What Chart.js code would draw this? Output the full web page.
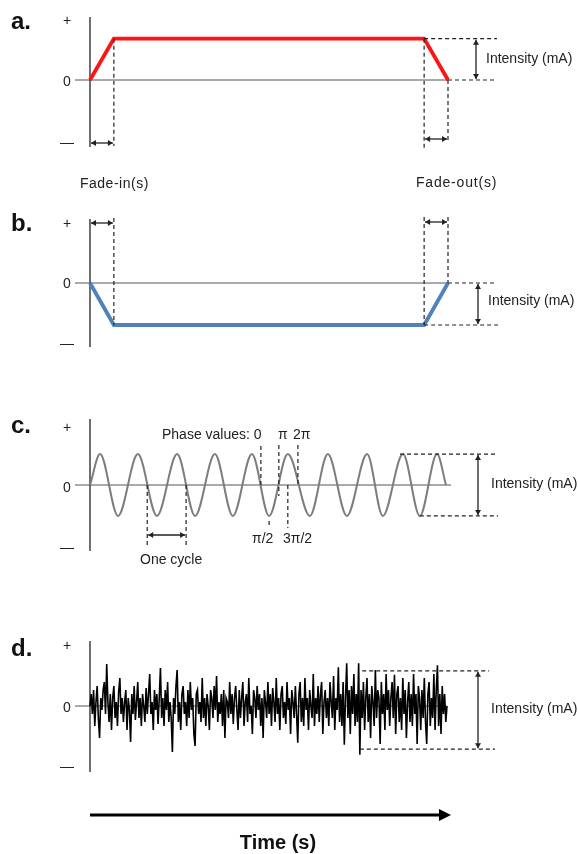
<!DOCTYPE html>
<html>
<head>
<meta charset="utf-8">
<script src="https://cdn.jsdelivr.net/npm/chart.js@4.4.1/dist/chart.umd.min.js"></script>
<style>
body { margin: 0; background: #fff; }
#fig { position: relative; width: 578px; height: 854px; overflow: hidden;
       font-family: "Liberation Sans", Arial, sans-serif; color: #222; }
#fig canvas { position: absolute; left: 0; }
.t { position: absolute; white-space: nowrap; line-height: 1; }
</style>
</head>
<body>
<div id="fig">
  <canvas id="panelA" width="578" height="200" style="top:0px"></canvas>
  <canvas id="panelB" width="578" height="170" style="top:200px"></canvas>
  <canvas id="panelC" width="578" height="200" style="top:380px"></canvas>
  <canvas id="panelD" width="578" height="254" style="top:600px"></canvas>
</div>
<script>
// ramp stimulation (a: anodal, b: cathodal), time in s, level in units of intensity
const rampTime = [0, 2, 28, 30];
const rampLevelA = [0, 1, 1, 0];
const rampLevelB = [0, -1, -1, 0];

// sine (c): extrema, time in cycle units
const waveTime = [0, 0.27, 0.75, 1.28, 1.79, 2.33, 2.81, 3.34, 3.82, 4.33, 4.79,
                  5.29, 5.88, 6.36, 6.87, 7.41, 7.83, 8.37, 8.82, 9.28, 9.52];
const waveLevel = [0, 1, -1, 1, -1, 1, -1, 1, -1, 1, -1,
                   1, -1, 1, -1, 1, -1, 1, -1, 1, 0];
const phaseNames = ['0', 'π/2', 'π', '3π/2', '2π'];
const phaseTime = [4.57, 4.79, 5.05, 5.29, 5.56];
const cycleTime = [1.53, 2.57];

// random noise (d), one sample per step
const noiseLevel = [
  0.0, 0.3, -0.2, 0.4, -0.5, 0.1, 0.5, -0.3, -0.8, 0.2,
  -0.1, 0.4, 0.6, -0.2, 1.05, 0.1, -0.4, 0.3, -0.6, 0.2,
  0.5, -0.3, 0.1, -0.5, 0.35, 0.7, -0.2, 0.2, -0.4, 0.1,
  0.4, -0.6, 0.2, -0.1, -0.9, 0.3, -0.2, 0.5, -0.35, 0.1,
  0.6, -0.3, 0.2, -0.5, 0.3, 0.0, -0.4, 0.45, -0.2, 0.3,
  0.8, -0.2, 0.1, -0.6, 0.4, -0.1, 0.3, -0.45, 0.2, 0.95,
  -0.3, 0.2, -0.5, 0.4, -0.1, 0.6, -0.4, 0.1, -0.3, -1.15,
  0.2, -0.2, 0.5, 0.9, -0.4, 0.1, -0.6, 0.3, 0.5, -0.2,
  0.1, -0.5, 0.4, -0.3, 0.6, -0.1, 0.2, -0.7, -1.0, 0.3,
  0.4, -0.2, 0.1, -0.4, 0.7, -0.3, 0.2, -0.5, 0.3, 0.0,
  -0.6, 0.4, 0.2, -0.3, 0.5, -0.1, 0.75, -0.4, 0.1, -0.2,
  0.3, -0.5, 0.4, -0.8, 0.2, 0.1, -0.3, 0.6, -0.2, 0.3,
  -0.45, 0.2, 0.5, -0.1, -0.6, 0.4, -0.3, 0.2, 0.6, -0.5,
  0.1, 0.3, -0.4, 0.7, -0.2, 0.0, -0.7, 0.4, 0.2, -0.3,
  0.5, -0.1, 0.3, -0.5, 0.2, -0.8, 0.4, 0.1, -0.3, 0.6,
  -0.2, 0.3, -0.5, 0.45, 0.1, -0.4, 0.7, -0.2, 0.2, -0.6,
  0.3, 0.5, -0.3, 0.1, -0.45, 0.6, -0.1, 0.2, -0.7, 0.4,
  0.1, -0.3, 0.5, -0.2, -0.92, 0.3, 0.6, -0.4, 0.2, -0.5,
  0.7, -0.1, 0.2, -0.6, 0.4, 0.0, -0.3, 0.8, -0.5, 0.2,
  -0.2, 0.5, -0.4, 0.3, 0.6, -0.7, 0.1, 0.4, -0.3, 0.2,
  -0.5, 0.6, 0.1, -0.3, 0.75, -0.6, 0.2, -0.1, 0.97, -0.4,
  0.3, -0.5, 0.6, -0.97, 0.2, 1.07, -0.3, 0.4, -0.7, 0.5,
  -0.2, 0.8, -0.5, 0.3, -0.4, 1.07, -1.22, 0.4, -0.3, 0.6,
  -0.6, 0.2, 0.7, -0.4, 0.3, -0.8, 0.5, 0.1, -0.5, 0.9,
  -0.3, 0.4, 0.2, -0.95, 0.6, -0.2, 0.3, -0.6, 0.8, -0.1,
  0.4, -0.5, 0.2, 0.6, -0.3, 0.78, -0.7, 0.3, 0.5, -0.4,
  0.2, -0.6, 0.7, -0.2, 0.4, -0.8, 0.1, 0.6, -0.4, 0.3,
  -0.5, 0.8, -0.2, 0.3, -0.95, 0.5, 0.2, -0.6, 0.4, -0.3,
  0.7, -0.4, -0.95, 0.3, 0.6, -0.5, 0.2, -0.3, 0.8, -0.6,
  0.4, 1.02, -0.5, 0.3, -0.7, 0.5, -0.2, 0.3, -0.4, 0.0
];
const noiseRange = [0.88, -1.08];

const ink = '#222';

function dashV(ctx, x, y1, y2) {
  ctx.save();
  ctx.setLineDash([4, 3]);
  ctx.lineWidth = 1.2;
  ctx.strokeStyle = ink;
  ctx.beginPath();
  ctx.moveTo(x, y1);
  ctx.lineTo(x, y2);
  ctx.stroke();
  ctx.restore();
}
function dashH(ctx, x1, x2, y) {
  ctx.save();
  ctx.setLineDash([4, 3]);
  ctx.lineWidth = 1.2;
  ctx.strokeStyle = ink;
  ctx.beginPath();
  ctx.moveTo(x1, y);
  ctx.lineTo(x2, y);
  ctx.stroke();
  ctx.restore();
}
function head(ctx, x, y, ang, len, w) {
  ctx.beginPath();
  ctx.moveTo(x, y);
  ctx.lineTo(x - len * Math.cos(ang) + w * Math.sin(ang), y - len * Math.sin(ang) - w * Math.cos(ang));
  ctx.lineTo(x - len * Math.cos(ang) - w * Math.sin(ang), y - len * Math.sin(ang) + w * Math.cos(ang));
  ctx.closePath();
  ctx.fill();
}
function arrow2(ctx, x1, y1, x2, y2) {
  const ang = Math.atan2(y2 - y1, x2 - x1);
  ctx.save();
  ctx.strokeStyle = ink;
  ctx.fillStyle = ink;
  ctx.lineWidth = 1.3;
  ctx.beginPath();
  ctx.moveTo(x1, y1);
  ctx.lineTo(x2, y2);
  ctx.stroke();
  head(ctx, x2, y2, ang, 5, 3);
  head(ctx, x1, y1, ang + Math.PI, 5, 3);
  ctx.restore();
}

// vertical axis and zero line
function frame(chart, down, right) {
  const { ctx, chartArea: a, scales: { y } } = chart;
  const y0 = y.getPixelForValue(0);
  ctx.save();
  ctx.strokeStyle = '#555';
  ctx.lineWidth = 1;
  ctx.beginPath();
  ctx.moveTo(a.left - 15, y0);
  ctx.lineTo(a.right + right, y0);
  ctx.stroke();
  ctx.strokeStyle = '#333';
  ctx.lineWidth = 1.4;
  ctx.beginPath();
  ctx.moveTo(a.left, a.top - 1);
  ctx.lineTo(a.left, a.bottom + down);
  ctx.stroke();
  ctx.restore();
}

function makePanel(id, pad, xr, yr, dataset, axisDown, zeroRight, marks) {
  return new Chart(document.getElementById(id), {
    type: 'line',
    data: { datasets: [dataset] },
    options: {
      responsive: false,
      animation: false,
      events: [],
      layout: { padding: pad },
      scales: {
        x: { type: 'linear', display: false, min: xr[0], max: xr[1] },
        y: { display: false, min: yr[0], max: yr[1] }
      },
      plugins: { legend: { display: false }, tooltip: { enabled: false } },
      elements: { point: { radius: 0 } }
    },
    plugins: [
      { id: 'frame', beforeDatasetsDraw: c => frame(c, axisDown, zeroRight) },
      { id: 'marks', afterDatasetsDraw: c => marks(c) }
    ]
  });
}

// a. anodal ramp
makePanel('panelA', { left: 90, right: 130, top: 18, bottom: 58 }, [0, 30], [-1.5, 1.5], {
  data: rampTime.map((t, i) => ({ x: t, y: rampLevelA[i] })),
  borderColor: '#ff1414', borderWidth: 3.8, tension: 0, clip: false
}, 5, 0, c => {
  const ctx = c.ctx, X = v => c.scales.x.getPixelForValue(v), Y = v => c.scales.y.getPixelForValue(v);
  dashV(ctx, X(rampTime[1]), Y(1), 146);
  dashV(ctx, X(rampTime[2]), Y(1), 148);
  dashV(ctx, X(rampTime[3]), Y(0), 143);
  arrow2(ctx, X(rampTime[0]) + 1, 143, X(rampTime[1]) - 1, 143);
  arrow2(ctx, X(rampTime[2]) + 1, 139, X(rampTime[3]) - 1, 139);
  dashH(ctx, X(rampTime[2]), 497, Y(1));
  dashH(ctx, X(rampTime[3]), 496, Y(0));
  arrow2(ctx, 476, Y(1) + 1, 476, Y(0) - 1);
});

// b. cathodal ramp
makePanel('panelB', { left: 90, right: 130, top: 20, bottom: 24 }, [0, 30], [-1.5, 1.5], {
  data: rampTime.map((t, i) => ({ x: t, y: rampLevelB[i] })),
  borderColor: '#4f81bd', borderWidth: 3.8, tension: 0, clip: false
}, 1, 0, c => {
  const ctx = c.ctx, X = v => c.scales.x.getPixelForValue(v), Y = v => c.scales.y.getPixelForValue(v);
  dashV(ctx, X(rampTime[1]), 18, Y(-1));
  dashV(ctx, X(rampTime[2]), 17, Y(-1));
  dashV(ctx, X(rampTime[3]), 17, Y(0));
  arrow2(ctx, X(rampTime[0]) + 1, 23, X(rampTime[1]) - 1, 23);
  arrow2(ctx, X(rampTime[2]) + 1, 22, X(rampTime[3]) - 1, 22);
  dashH(ctx, X(rampTime[3]), 495, Y(0));
  dashH(ctx, X(rampTime[2]), 498, Y(-1));
  arrow2(ctx, 478, Y(0) + 1, 478, Y(-1) - 1);
});

// c. alternating current
makePanel('panelC', { left: 90, right: 132, top: 40, bottom: 30 }, [0, 9.52], [-2.1, 2.1], {
  data: waveTime.map((t, i) => ({ x: t, y: waveLevel[i] })),
  borderColor: '#7d7d7d', borderWidth: 2, cubicInterpolationMode: 'monotone', clip: false
}, 1, 5, c => {
  const ctx = c.ctx, X = v => c.scales.x.getPixelForValue(v), Y = v => c.scales.y.getPixelForValue(v);
  // one cycle
  dashV(ctx, X(cycleTime[0]), Y(0), 168);
  dashV(ctx, X(cycleTime[1]), Y(0), 168);
  arrow2(ctx, X(cycleTime[0]) + 1, 155, X(cycleTime[1]) - 1, 155);
  // phase markers
  dashV(ctx, X(phaseTime[0]), 66, Y(0));
  dashV(ctx, X(phaseTime[1]), 141, 146);
  dashV(ctx, X(phaseTime[2]), 65, 116);
  dashV(ctx, X(phaseTime[3]), Y(0), 148);
  dashV(ctx, X(phaseTime[4]), 65, Y(0));
  // intensity
  dashH(ctx, X(8.29), 498, Y(1));
  dashH(ctx, X(8.82), 498, Y(-1));
  arrow2(ctx, 478, Y(1) + 1, 478, Y(-1) - 1);
});

// d. random noise
makePanel('panelD', { left: 90, right: 131, top: 42, bottom: 84 }, [0, noiseLevel.length - 1], [-1.6, 1.6], {
  data: noiseLevel.map((v, i) => ({ x: i, y: v })),
  borderColor: '#000', borderWidth: 1.6, tension: 0, clip: false
}, 2, 0, c => {
  const ctx = c.ctx, X = v => c.scales.x.getPixelForValue(v), Y = v => c.scales.y.getPixelForValue(v);
  dashH(ctx, X(228), 489, Y(noiseRange[0]));
  dashH(ctx, X(226), 495, Y(noiseRange[1]));
  arrow2(ctx, 478, Y(noiseRange[0]) + 1, 478, Y(noiseRange[1]) - 1);
  // time arrow
  ctx.save();
  ctx.strokeStyle = '#000';
  ctx.fillStyle = '#000';
  ctx.lineWidth = 3;
  ctx.beginPath();
  ctx.moveTo(c.chartArea.left, 215);
  ctx.lineTo(442, 215);
  ctx.stroke();
  head(ctx, 451, 215, 0, 12, 6);
  ctx.restore();
});

// text labels
const fig = document.getElementById('fig');
function text(str, x, y, size, weight, align) {
  const d = document.createElement('div');
  d.className = 't';
  d.textContent = str;
  d.style.fontSize = size + 'px';
  d.style.top = (y - size / 2) + 'px';
  if (weight) d.style.fontWeight = weight;
  if (align === 'center') { d.style.left = x + 'px'; d.style.transform = 'translateX(-50%)'; }
  else d.style.left = x + 'px';
  fig.appendChild(d);
  return d;
}
const panelLetters = ['a.', 'b.', 'c.', 'd.'];
const letterY = [21, 223, 425, 648];
panelLetters.forEach((s, i) => { text(s, 11, letterY[i], 24, 'bold').style.color = '#111'; });
const plusY = [20, 223, 427, 645], zeroY = [81, 283, 487, 707], minusY = [142, 343, 547, 766];
plusY.forEach(y => text('+', 63, y, 14));
zeroY.forEach(y => text('0', 63, y, 14));
minusY.forEach(y => text('—', 60, y, 14));
const intensityY = [58, 300, 483, 708], intensityX = [486, 488, 491, 491];
intensityY.forEach((y, i) => text('Intensity (mA)', intensityX[i], y, 14));
text('Fade-in(s)', 80, 183, 14).style.letterSpacing = '0.5px';
text('Fade-out(s)', 416, 182, 14).style.letterSpacing = '0.8px';
text('Phase values: 0', 162, 434, 14);
text('π', 278, 434, 14);
text('2π', 293, 434, 14);
text('π/2', 252, 538, 14);
text('3π/2', 283, 538, 14);
text('One cycle', 140, 559, 14);
text('Time (s)', 278, 842, 20, 'bold', 'center').style.color = '#111';
</script>
</body>
</html>
